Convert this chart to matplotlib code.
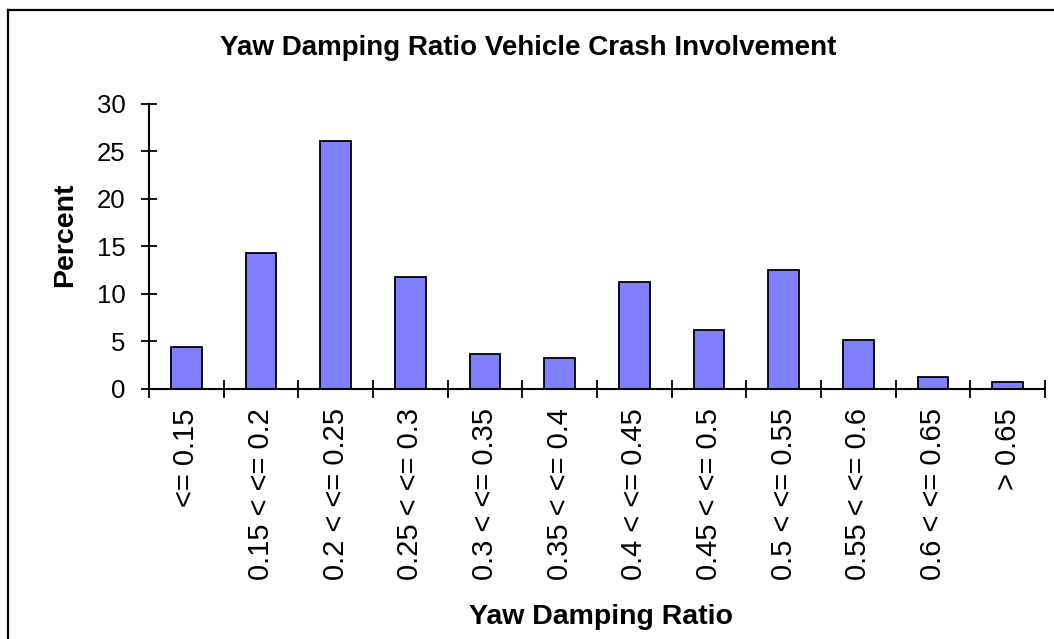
import matplotlib
matplotlib.use("Agg")
import matplotlib.pyplot as plt
from matplotlib.lines import Line2D
import numpy as np

categories = ["<= 0.15", "0.15 < <= 0.2", "0.2 < <= 0.25", "0.25 < <= 0.3",
              "0.3 < <= 0.35", "0.35 < <= 0.4", "0.4 < <= 0.45", "0.45 < <= 0.5",
              "0.5 < <= 0.55", "0.55 < <= 0.6", "0.6 < <= 0.65", "> 0.65"]
percent = [4.4, 14.3, 26.1, 11.8, 3.7, 3.2, 11.2, 6.2, 12.5, 5.1, 1.2, 0.7]
yticks = [0, 5, 10, 15, 20, 25, 30]

plt.rcParams['font.family'] = ['Liberation Sans', 'DejaVu Sans']

W, H = 1054, 639
fig = plt.figure(figsize=(W / 100, H / 100), dpi=100)
fig.patch.set_facecolor('white')

ax = fig.add_axes([149 / W, 1 - 388.7 / H, (1045 - 149) / W, (388.7 - 104) / H])
x = np.arange(len(categories))
ax.bar(x, percent, width=0.41, color='#8080FF', edgecolor='black', linewidth=1.3, zorder=2)

ax.set_xlim(-0.5, len(categories) - 0.5)
ax.set_ylim(0, 30)
ax.set_yticks(yticks)
ax.set_yticklabels([str(v) for v in yticks], fontsize=18.5)

ax.set_xticks(np.arange(-0.5, len(categories), 1.0))
ax.set_xticklabels([])
ax.set_xticks(x, minor=True)
ax.set_xticklabels(categories, minor=True, rotation=90, fontsize=21, va='top', ha='center')
ax.tick_params(axis='x', which='minor', length=0, pad=14)
ax.tick_params(axis='x', which='major', direction='inout', length=13, width=1.3)
ax.tick_params(axis='y', direction='inout', length=12, width=1.3, pad=11)

for s in ['top', 'right']:
    ax.spines[s].set_visible(False)
for s in ['left', 'bottom']:
    ax.spines[s].set_linewidth(1.5)

fig.text(65.5 / W, 1 - 235 / H, 'Percent', fontsize=20.5, fontweight='bold',
         rotation=90, ha='center', va='center')

fig.text(601 / W, 1 - 617 / H, 'Yaw Damping Ratio', fontsize=20.5, fontweight='bold',
         ha='center', va='center')

fig.text(528 / W, 1 - 48 / H, 'Yaw Damping Ratio Vehicle Crash Involvement',
         fontsize=20, fontweight='bold', ha='center', va='center')

# outer chart frame (left and top visible)
fig.add_artist(Line2D([8 / W, 8 / W], [0, 1 - 10 / H], transform=fig.transFigure,
                      color='black', linewidth=1.6))
fig.add_artist(Line2D([8 / W, 1], [1 - 10 / H, 1 - 10 / H], transform=fig.transFigure,
                      color='black', linewidth=1.6))

fig.savefig('out.png', dpi=100)
